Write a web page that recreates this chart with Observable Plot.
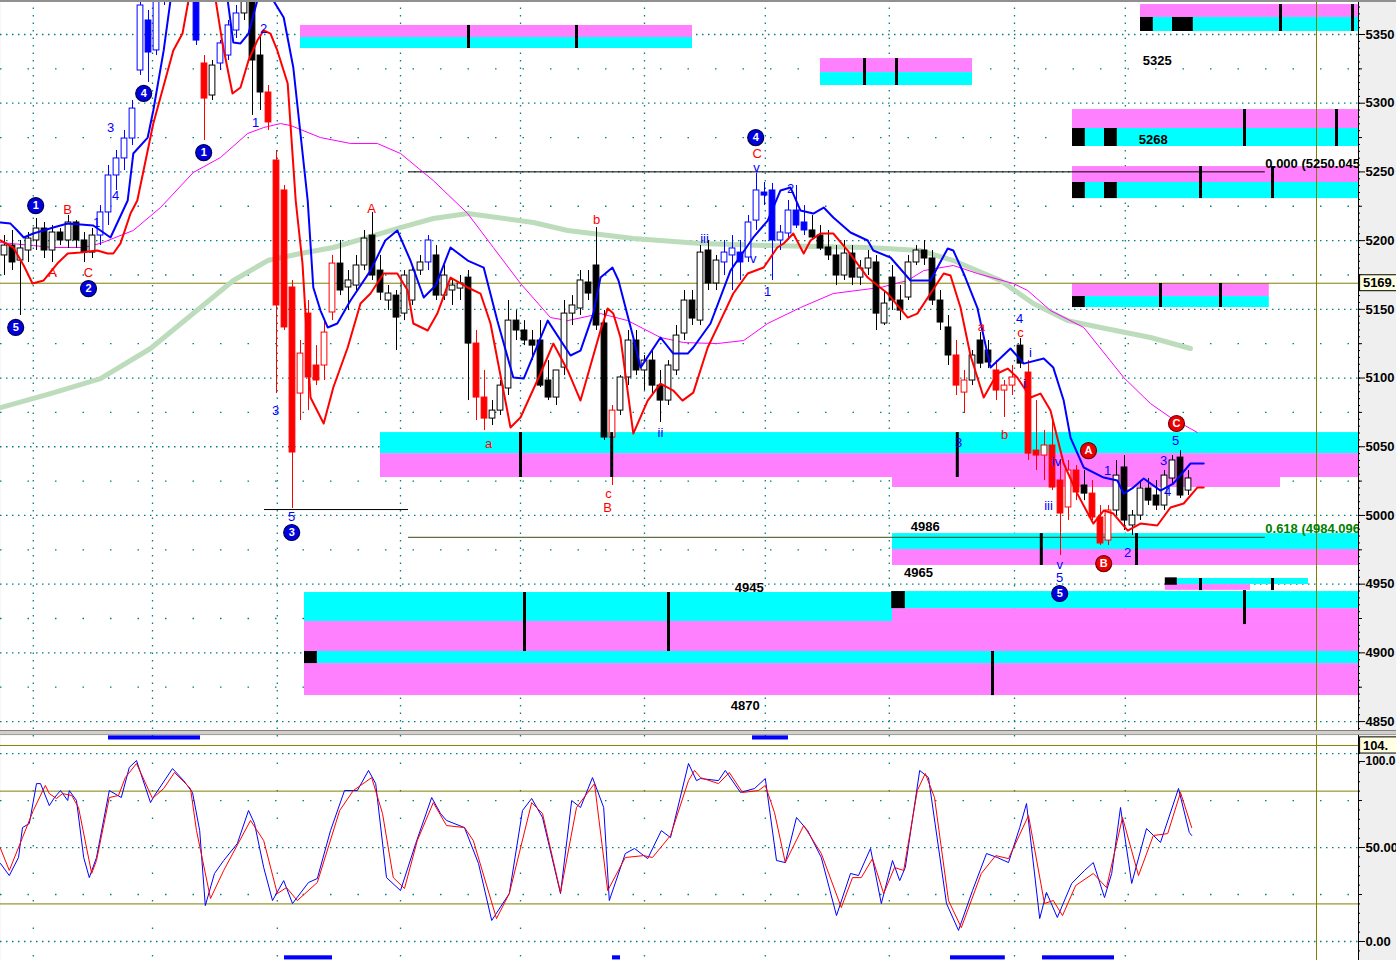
<!DOCTYPE html>
<html><head><meta charset="utf-8">
<script src="https://cdn.jsdelivr.net/npm/d3@7"></script>
<script src="https://cdn.jsdelivr.net/npm/@observablehq/plot@0.6"></script>
<style>
html,body{margin:0;padding:0;background:#fff;overflow:hidden;}
#wrap{position:relative;width:1396px;height:960px;background:#efefef;font-family:"Liberation Sans",Arial,sans-serif;}
#main{position:absolute;left:0;top:0;}
#lower{position:absolute;left:0;top:735px;}
#sep{position:absolute;left:0;top:730px;width:1396px;height:5px;background:#d4d0c8;border-top:1px solid #808080;border-bottom:1px solid #a0a0a0;box-sizing:border-box;}
#topb{position:absolute;left:0;top:0;width:1396px;height:2px;background:#909090;}
</style></head>
<body><div id="wrap"><div id="main"></div><div id="sep"></div><div id="lower"></div><div id="topb"></div></div>
<script>
// ---------- DATA ----------
const barOpen = [5189.2,5196.4,5185.5,5192.8,5200.1,5208.8,5192.8,5205.9,5200.1,5213.2,
5200.1,5191.3,5203.7,5220.5,5247.4,5259.8,5274.3,5323.8,5360.2,5338.4,
5382.0,5396.6,5403.9,5396.6,5378.4,5328.9,5305.6,5328.9,5334.7,5352.9,
5365.3,5374.8,5334.7,5307.8,5258.3,5236.5,5165.9,5088.7,5146.9,5109.1,
5109.1,5147.7,5183.3,5165.9,5167.3,5181.9,5203.7,5178.2,5156.4,5160.0,
5146.9,5156.4,5178.2,5184.1,5189.2,5160.0,5163.7,5165.1,5173.1,5125.1,
5085.8,5070.5,5076.3,5092.4,5141.8,5134.6,5127.3,5127.3,5098.2,5085.8,
5107.6,5146.9,5150.6,5169.5,5181.9,5139.7,5056.7,5076.3,5100.4,5127.3,
5105.5,5112.7,5094.5,5083.6,5105.5,5132.4,5156.4,5141.8,5192.8,5168.8,
5184.1,5189.2,5191.3,5187.7,5214.6,5235.0,5236.5,5200.1,5205.2,5221.9,
5213.2,5207.4,5203.7,5195.0,5189.2,5174.6,5190.6,5173.1,5179.7,5184.1,
5139.7,5173.1,5156.4,5158.6,5184.1,5192.8,5187.0,5156.4,5136.8,5116.4,
5089.4,5098.2,5127.3,5120.0,5105.5,5090.9,5094.5,5123.6,5104.0,5047.2,
5043.6,5050.9,5025.4,5005.8,5032.7,5021.8,5015.9,4998.5,4981.7,5003.6,
5034.9,4992.7,4999.9,5019.6,5014.5,5007.2,5026.9,5042.1,5018.1];
const barHigh = [5203.7,5207.4,5200.1,5205.9,5216.1,5213.2,5211.0,5208.8,5218.3,5214.6,
5205.9,5208.8,5225.5,5254.7,5265.6,5280.1,5302.0,5389.3,5367.5,5389.3,
5403.9,5411.1,5414.8,5407.5,5385.7,5334.7,5331.1,5345.6,5360.2,5371.1,
5382.0,5382.0,5349.3,5312.9,5265.6,5240.1,5171.0,5127.3,5156.4,5123.6,
5141.8,5189.2,5200.1,5178.2,5189.2,5207.4,5220.5,5189.2,5167.3,5163.7,
5178.2,5181.9,5189.2,5203.7,5196.4,5181.9,5171.0,5174.6,5178.2,5134.6,
5105.5,5083.6,5098.2,5156.4,5149.1,5141.8,5134.6,5141.8,5112.7,5098.2,
5156.4,5160.0,5178.2,5178.2,5209.5,5149.1,5080.0,5101.8,5134.6,5134.6,
5116.4,5120.0,5105.5,5112.7,5138.2,5163.7,5163.7,5196.4,5200.1,5189.2,
5200.1,5203.7,5200.1,5218.3,5248.8,5242.3,5241.6,5211.0,5229.2,5240.1,
5225.5,5218.3,5211.0,5207.4,5196.4,5200.1,5196.4,5185.5,5192.8,5189.2,
5163.7,5181.9,5167.3,5189.2,5196.4,5200.1,5192.8,5163.7,5145.5,5127.3,
5105.5,5120.0,5133.1,5127.3,5112.7,5098.2,5109.1,5128.7,5112.7,5083.6,
5061.8,5069.1,5040.0,5040.0,5036.3,5032.7,5025.4,5007.2,5007.2,5040.0,
5043.6,5003.6,5025.4,5026.9,5025.4,5032.7,5043.6,5047.2,5032.7];
const barLow = [5174.6,5178.2,5145.5,5184.1,5192.8,5187.0,5184.1,5196.4,5194.3,5194.3,
5184.1,5187.0,5196.4,5211.0,5236.5,5251.0,5269.2,5320.2,5315.1,5334.7,
5371.1,5382.0,5389.3,5371.1,5342.0,5272.9,5302.0,5323.8,5331.1,5347.1,
5360.2,5291.1,5294.7,5280.1,5088.7,5134.6,5005.0,5069.1,5076.3,5094.5,
5098.2,5141.8,5160.0,5149.1,5163.7,5178.2,5171.0,5156.4,5149.1,5120.0,
5141.8,5152.8,5174.6,5178.2,5156.4,5156.4,5152.8,5156.4,5083.6,5069.1,
5061.8,5065.4,5072.7,5087.3,5127.3,5123.6,5112.7,5093.1,5083.6,5080.0,
5101.8,5138.2,5145.5,5156.4,5134.6,5054.5,5021.8,5072.7,5094.5,5101.8,
5090.9,5087.3,5067.6,5080.0,5101.8,5127.3,5138.2,5138.2,5163.7,5163.7,
5174.6,5163.7,5171.0,5184.1,5207.4,5225.5,5171.0,5192.8,5200.1,5208.8,
5203.7,5200.1,5192.8,5185.5,5167.3,5171.0,5167.3,5167.3,5174.6,5134.6,
5138.2,5149.1,5141.8,5156.4,5181.9,5181.9,5152.8,5134.6,5109.1,5087.3,
5074.2,5094.5,5106.9,5106.9,5083.6,5071.3,5087.3,5106.9,5040.0,5032.7,
5025.4,5018.1,4970.8,4996.3,5010.8,5010.8,4996.3,4978.1,4978.1,4999.9,
4989.0,4985.4,4996.3,5007.2,5003.6,5003.6,5021.8,5012.3,5014.5];
const barClose = [5196.4,5184.1,5194.3,5201.5,5208.8,5192.8,5205.9,5200.1,5213.2,5200.1,
5191.3,5203.7,5220.5,5247.4,5259.8,5274.3,5296.1,5371.1,5336.9,5382.0,
5396.6,5403.9,5396.6,5378.4,5345.6,5303.4,5327.4,5343.5,5356.6,5365.3,
5374.8,5331.1,5307.8,5286.0,5152.8,5136.8,5045.8,5117.8,5100.4,5098.2,
5133.1,5183.3,5163.7,5171.0,5181.9,5201.5,5174.6,5162.2,5161.5,5144.0,
5174.6,5178.2,5184.1,5200.1,5160.0,5174.6,5167.3,5168.8,5125.1,5085.8,
5070.5,5076.3,5094.5,5141.8,5134.6,5127.3,5123.6,5094.5,5085.8,5105.5,
5146.9,5152.8,5171.0,5161.5,5138.2,5056.7,5076.3,5100.4,5127.3,5105.5,
5112.7,5094.5,5083.6,5109.1,5130.9,5156.4,5143.3,5191.3,5168.8,5185.5,
5191.3,5194.3,5184.1,5213.2,5236.5,5232.8,5200.1,5205.9,5221.9,5211.0,
5207.4,5202.3,5194.3,5189.2,5174.6,5190.6,5173.1,5179.7,5187.0,5146.9,
5154.2,5156.4,5149.1,5184.1,5192.8,5187.0,5156.4,5140.4,5116.4,5094.5,
5098.2,5116.4,5110.5,5111.3,5090.9,5094.5,5100.4,5110.5,5045.0,5043.6,
5050.9,5020.3,5001.4,5032.7,5016.7,5015.9,4998.5,4979.6,5003.6,5029.0,
4996.3,4999.9,5019.6,5010.8,5007.2,5029.0,5040.0,5014.5,5026.9];
// k = black/white candle, b = blue candle, r = red candle
const barTone = ("kkkkkkkkkkkk"+"bbbbbbbbbbbbb"+"r"+"k"+"bbb"+"kkk"+"rrrrrrrrr"+"kkkkkkkkkkk"+"b"+"kkkkk"+"rr"+
  "kkkkkkkkkkkkkkk"+"r"+"kkkkkkkkkkkkk"+"bbbbbbbbbbb"+"kkkkkkkkkkkkkkkkkk"+"rr"+"kkk"+"rrr"+"k"+"rrrrrrr"+"k"+"rrr"+"kkkkkkkkkk").split("");

const blueBand = [[-0.5,5213.2],[0.75,5212.4],[1.6,5207.4],[2.4,5202.3],[3.6,5205.2],[6.1,5209.5],[7.9,5212.4],[11.1,5211.0],[12,5207.4],[13.25,5202.3],[15.4,5229.2],[16.1,5263.4],[17.9,5275.0],[18.6,5294.7],[19.9,5338.4],[20.75,5374.8],[22,5403.9],[25.1,5411.1],[27.25,5389.3],[27.9,5374.8],[28.6,5344.2],[29.5,5343.5],[30.5,5350.7],[31.6,5374.8],[32.6,5382.0],[33.6,5374.8],[34.9,5362.4],[36.1,5326.0],[37.9,5229.2],[38.6,5165.9],[39.5,5149.1],[40.4,5136.8],[41.6,5139.7],[43.25,5156.4],[45.75,5178.2],[47.6,5200.1],[49.1,5207.4],[50.75,5185.5],[52.4,5158.6],[53.9,5167.3],[55.75,5195.0],[57.9,5185.5],[59.9,5180.4],[61.6,5141.8],[63.6,5100.4],[64.9,5099.6],[67.9,5141.8],[70.75,5116.4],[72,5120.0],[73.6,5146.9],[74.5,5173.1],[76,5180.4],[76.75,5171.0],[78.6,5129.5],[79.5,5107.6],[82,5129.5],[83.6,5117.8],[85.4,5117.8],[86.1,5122.2],[88.25,5139.7],[90.75,5178.2],[93.6,5202.3],[95.4,5214.6],[97,5236.5],[98.25,5238.7],[99.5,5221.9],[101.1,5219.7],[102.4,5224.1],[103.6,5216.8],[105.75,5205.9],[107.9,5200.1],[108.6,5192.8],[110.75,5187.7],[113.25,5171.0],[115.75,5171.0],[117.9,5194.3],[118.6,5192.8],[119.9,5176.1],[121.6,5151.3],[123.25,5107.6],[125.75,5121.5],[127.4,5110.5],[129.9,5114.2],[131.1,5107.6],[132.4,5083.6],[133.25,5056.7],[134.9,5034.9],[137.4,5027.6],[139.1,5025.4],[139.9,5015.9],[141.1,5020.3],[142.4,5026.9],[144.5,5018.1],[146.1,5023.2],[148.25,5037.8],[149.9,5037.8]];
const redBand = [[-0.5,5200.1],[1.1,5195.0],[2.4,5181.9],[3.5,5168.8],[4.9,5171.0],[6.6,5183.3],[7.9,5190.6],[9.5,5191.3],[11.6,5192.8],[12.9,5190.6],[13.6,5190.6],[14.5,5198.0],[15.75,5219.7],[16.6,5229.2],[18.6,5285.2],[21.1,5338.4],[22.25,5350.7],[23,5374.8],[24.5,5389.3],[25.75,5382.0],[26.4,5374.8],[27.25,5343.5],[28.5,5307.1],[29.5,5311.4],[30.5,5331.1],[31.6,5345.6],[32.4,5352.9],[33.25,5350.7],[34.1,5338.4],[35.4,5314.3],[36.4,5229.2],[37.25,5183.3],[38.25,5085.8],[39.9,5066.9],[41.1,5093.1],[42.9,5122.2],[44.5,5154.2],[45.75,5161.5],[47.4,5176.1],[49.1,5176.1],[50.4,5163.7],[51.1,5139.7],[52.9,5134.6],[54.1,5146.9],[55.75,5173.1],[57.9,5165.9],[59.5,5161.5],[60.75,5139.7],[63.25,5064.0],[64.5,5071.3],[67,5103.3],[68.6,5125.1],[70.4,5105.5],[72,5083.6],[74.5,5134.6],[75.4,5150.6],[76.1,5146.9],[77,5129.5],[78.6,5059.6],[80.4,5083.6],[82,5096.0],[83.6,5090.9],[84.75,5083.6],[86.1,5089.4],[87.9,5122.2],[89.5,5141.8],[91.1,5161.5],[92.9,5176.1],[94.9,5180.4],[96.6,5195.0],[97.4,5197.9],[98.6,5205.2],[99.9,5190.6],[100.75,5200.1],[102,5205.2],[103.6,5205.2],[105.4,5192.8],[107.9,5173.1],[110.4,5161.5],[112.9,5144.0],[114.1,5146.9],[115.75,5161.5],[117.4,5176.1],[118.25,5174.6],[119.5,5151.3],[120.75,5116.4],[122.4,5085.8],[124.1,5103.3],[125.4,5106.9],[126.6,5100.4],[128.25,5085.8],[129.5,5088.7],[130.75,5076.3],[132.4,5037.8],[134.1,5015.9],[136.1,4994.1],[137.4,5003.6],[138.6,5001.4],[140.4,4989.0],[142,4994.1],[144.1,4992.7],[145.75,5005.8],[147.4,5008.7],[149.1,5020.3],[149.9,5020.3]];
const magentaAvg = [[-0.5,5198.6],[3.6,5196.4],[6.1,5195.0],[9.9,5195.0],[12,5198.0],[16.1,5207.4],[19.5,5224.1],[23.6,5249.6],[27,5260.5],[30.4,5278.0],[32.4,5282.3],[34.5,5285.2],[35.75,5283.8],[39.5,5275.0],[43.25,5270.7],[46.6,5270.7],[49.5,5263.4],[53.6,5243.7],[57.9,5219.7],[61.1,5195.0],[64.5,5168.8],[68.25,5144.0],[70.4,5141.8],[74.5,5146.9],[77.9,5141.8],[82,5129.5],[84.9,5125.8],[89.1,5125.1],[92.4,5127.3],[95.4,5139.7],[99.5,5151.3],[103.6,5161.5],[109.5,5165.9],[112.9,5171.0],[114.9,5178.2],[118.6,5181.9],[121.6,5176.1],[126.1,5168.8],[127.9,5163.7],[130.75,5149.1],[134.9,5136.8],[139.9,5100.4],[143.25,5081.4],[145.75,5071.3],[149.1,5060.4]];
const greenAvg = [[-0.5,5078.5],[5.75,5088.7],[12,5099.6],[18.25,5121.5],[24.5,5151.3],[28.6,5171.0],[32.9,5185.5],[37,5190.6],[41.1,5195.0],[45.4,5202.3],[49.5,5209.5],[53.6,5216.1],[57.9,5219.7],[66.1,5213.2],[70.4,5207.4],[78.6,5201.5],[87,5197.9],[95.4,5196.4],[107.9,5195.0],[114.5,5192.8],[118.6,5185.5],[124.5,5171.0],[128.6,5154.2],[132.9,5141.8],[137,5136.8],[143.25,5129.5],[148.25,5121.5]];

const stochK = [[-0.5,41.5],[0.6,35.1],[1.75,44.7],[2.25,60.6],[3.1,62.8],[4,84.0],[4.5,84.0],[5.6,72.3],[6.25,76.6],[7,80.3],[7.9,75.0],[8.1,80.3],[9,75.0],[9.9,44.7],[10.6,34.0],[11.5,44.7],[13.1,80.3],[14.6,76.6],[15.6,92.6],[16.5,96.3],[18.25,73.9],[18.75,77.7],[21,92.0],[22.4,85.6],[23.5,79.3],[24.4,59.0],[25.1,19.1],[26.25,36.2],[27.4,43.1],[29.1,52.1],[30.5,69.7],[31.25,62.8],[32.4,39.4],[33.5,21.8],[34.9,32.4],[36,20.2],[38,31.4],[39.1,33.5],[40.75,59.0],[42.5,80.3],[44.1,80.3],[45.5,91.0],[46.4,84.0],[47.75,34.0],[49.5,27.1],[51.4,52.1],[53.4,76.6],[54.5,68.1],[55.25,64.4],[57.5,60.6],[59.25,41.5],[60.9,11.2],[63.1,25.5],[64.75,69.7],[65.9,76.1],[67.25,66.0],[69.5,25.5],[70.9,75.0],[72,71.3],[73.5,87.2],[74.9,71.3],[75.6,21.8],[77.6,46.8],[78.75,49.5],[80.4,44.1],[82.1,59.0],[83.25,55.3],[85.5,94.7],[86.5,85.6],[87,86.7],[89.25,85.6],[90.1,91.0],[92,79.3],[93.75,81.4],[95.1,86.7],[96.5,43.1],[97.6,42.0],[99,66.0],[100.4,59.0],[102.1,44.7],[104,13.8],[105.75,36.2],[106.75,35.1],[108.25,49.5],[109.6,20.2],[111,43.1],[111.9,32.4],[112.6,39.4],[114.4,91.0],[115.5,87.2],[117.75,20.2],[119.25,5.9],[121,27.1],[122.75,46.8],[124.1,44.7],[125.5,42.0],[126.9,60.6],[127.75,73.4],[129.4,12.2],[130.25,26.1],[131.6,12.8],[133.4,30.9],[135,37.8],[136.1,42.0],[137.5,23.4],[138.4,36.2],[139.5,71.3],[140.9,30.9],[142.75,60.1],[144.5,52.7],[146.75,81.4],[148.1,58.0],[148.4,56.4]];
const stochD = [[-0.5,49.5],[0.6,37.8],[2.25,55.3],[3.6,69.7],[5.1,83.0],[5.6,78.7],[6.5,76.1],[7.25,78.7],[8.4,77.7],[9.25,71.3],[10.9,36.2],[11.5,43.1],[13.1,76.6],[14.25,77.7],[15.1,87.2],[16.5,94.7],[18.5,76.1],[19.9,81.4],[21.25,89.9],[23.25,81.4],[24,59.0],[25.75,22.9],[27.4,37.8],[30.75,64.4],[32.4,53.7],[34.1,25.5],[35.25,28.7],[36.6,21.8],[39.1,31.4],[41.9,69.7],[43.6,80.3],[45.9,87.2],[47.25,68.1],[48.6,34.0],[50,28.2],[51.6,53.7],[53.6,73.9],[55.25,61.7],[57.5,60.6],[58.6,53.7],[61.5,12.2],[63.1,25.5],[65.9,73.9],[67.25,68.1],[69.5,26.1],[71.5,71.3],[73.75,84.0],[75.4,27.1],[77.6,44.7],[79.9,45.7],[81,44.7],[83.25,56.4],[85.5,85.6],[86.25,91.0],[87,87.2],[89.25,84.0],[90.6,89.9],[92.25,79.3],[94.25,80.3],[95.1,83.0],[96.25,68.6],[97.6,42.0],[99.9,61.7],[102.1,46.8],[104.6,18.1],[106,34.0],[107.1,34.0],[108.5,44.1],[109.9,25.5],[111.25,39.4],[112.4,37.8],[114.1,80.3],[115.1,89.4],[116.25,76.6],[118,21.8],[119.6,7.4],[122.1,36.2],[123.9,45.7],[125.5,44.1],[128,67.0],[130,20.2],[131.1,21.8],[132.25,13.8],[133.9,29.8],[136.1,36.2],[137.75,28.7],[139.75,66.0],[141.75,35.1],[143.6,56.4],[145.4,57.4],[147,79.3],[148.4,60.6]];

// zones (bar units / price)
const zoneStart = [37,37,102,102,142,142,133.5,133.5,133.5,133.5,133.5,133.5,47,47,111,111,111,37.5,111,111,37.5,37.5,37.5,146.6,145.1];
const zoneEnd   = [86,86,121,121,169.25,169.25,169.25,169.25,169.25,169.25,158.1,158.1,169.25,169.25,159.5,169.25,169.25,111,169.25,169.25,169.25,169.25,169.25,163,155.75];
const zoneLow   = [5347.8,5339.8,5322.3,5312.9,5362.4,5352.2,5281.6,5268.5,5242.3,5230.6,5159.3,5151.3,5045.0,5027.6,5020.3,4975.2,4963.6,4922.8,4932.2,4922.8,4901.0,4892.2,4868.9,4949.7,4945.5];
const zoneHigh  = [5356.6,5347.8,5332.5,5322.3,5371.8,5362.4,5295.4,5281.6,5253.9,5242.3,5168.8,5159.3,5060.3,5045.0,5027.6,4986.8,4975.2,4943.9,4944.6,4932.2,4922.8,4901.0,4892.2,4954.1,4949.7];
const zoneKind  = ["m","c","m","c","m","c","m","c","m","c","m","c","c","m","m","c","m","c","c","m","m","c","m","c","m"];
const blockStart = [37.5,110.9,133.5,137.5,133.5,137.5,133.5,142,146,145.1];
const blockEnd   = [39.1,112.6,135.1,139.1,135.1,139.1,135.1,143.6,148.6,146.6];
const blockLow   = [4892.2,4932.2,5268.5,5268.5,5230.6,5230.6,5151.3,5352.2,5352.2,4949.2];
const blockHigh  = [4901.0,4944.6,5281.6,5281.6,5242.3,5242.3,5159.3,5362.4,5362.4,4954.6];
const zTickBar  = [58,71.5,107.5,111.5,159.5,168.5,155,166.5,149.5,158.5,144.5,152,64.5,75.9,119.1,129.6,141.5,65,83,123.5,149.5,158.5,155];
const zTickLow  = [5339.8,5339.8,5312.9,5312.9,5352.2,5352.2,5268.5,5268.5,5230.6,5230.6,5151.3,5151.3,5027.6,5027.6,5027.6,4963.6,4963.6,4901.0,4901.0,4868.9,4945.3,4945.3,4920.6];
const zTickHigh = [5356.6,5356.6,5332.5,5332.5,5371.8,5371.8,5295.4,5295.4,5253.9,5253.9,5168.8,5168.8,5060.3,5060.3,5060.3,4986.8,4986.8,4943.9,4943.9,4901.0,4954.1,4954.1,4945.3];
const zoneText  = ["5325","5268","4986","4965","4945","4870"];
const zoneTextBar = [144.1,143.6,115.1,114.25,93.1,92.6];
const zoneTextPrice = [5331.1,5273.6,4991.9,4958.5,4947.6,4861.6];

// Fibonacci levels
const fibPrice = [5250.045, 4984.096];
const fibText = ["0.000 (5250.045", "0.618 (4984.096"];
const fibColor = ["#000000", "#008000"];
const fibFrom = 50.5, fibTo = 157.6;
const wave3Low = 5004.3, wave3From = 32.5, wave3To = 50.5;

const lastPrice = 5169, lastPriceText = "5169.";
const cursorBar = 164;
const gridBars = [3.6,18.5,34.1,49.5,64.5,80,95.1,110.6,126.25,140.1];
const priceTicks = [4850,4900,4950,5000,5050,5100,5150,5200,5250,5300,5350];
const priceHalf = [4875,4925,4975,5025,5075,5125,5175,5225,5275,5325];

// wave labels
const waveText  = ["1","3","4","1","2","3","5","iii","v","1","v","2","ii","3","4","i","i","iv","iii","v","5","1","2","3","4","5",
                   "A","B","C","A","a","b","c","B","C","a","b","c"];
const waveBar   = [11.5,13.25,13.9,31.4,32.4,33.9,35.9,87.5,93.6,95.4,94,98.25,82,119.25,126.9,128.25,127.5,131.5,130.5,131.9,131.9,137.9,140.4,144.9,145.4,146.4,
                   6,7.9,10.5,45.9,60.5,74,75.5,75.4,94.1,122.1,125,127];
const wavePrice = [5213.2,5282.3,5232.8,5286.0,5354.4,5076.3,4999.2,5201.5,5187.0,5163.0,5253.2,5237.9,5060.4,5053.0,5143.3,5118.5,5096.0,5039.2,5007.2,4964.3,4954.8,5032.7,4973.0,5040.0,5017.4,5054.5,
                   5176.8,5222.6,5176.8,5223.4,5052.3,5215.4,5016.0,5005.8,5263.4,5137.5,5058.9,5133.1];
const waveColor = ["b","b","b","b","b","b","b","b","b","b","b","b","b","b","b","b","b","b","b","b","b","b","b","b","b","b",
                   "r","r","r","r","r","r","r","r","r","r","r","r"];
const circText  = ["1","2","5","4","1","3","4","5","A","B","C"];
const circBar   = [3.9,10.5,1.4,17.4,24.9,35.9,93.9,131.9,135.5,137.4,146.5];
const circPrice = [5225.5,5165.1,5136.8,5307.1,5264.1,4987.6,5275.0,4943.2,5047.2,4965.0,5066.9];
const circColor = ["b","b","b","b","b","b","b","b","r","r","r"];

// stochastic panel
const stochTicks = [0, 50];
const stochTickText = ["0.00", "50.00"];
const stochTopTick = 100, stochTopTickText = "100.0";
const stochBands = [20, 80];
const stochTop = 104.3, stochTopText = "104.";
const markTopStart = [13, 93.5], markTopEnd = [24.5, 98];
const markBotStart = [35, 76, 118.25, 129.75], markBotEnd = [41, 77, 125.1, 138.75];

// ---------- RENDER ----------
const FONT = "Liberation Sans, Arial, sans-serif";
const xDomain = [-0.5, 169.25];
const tickLen = v => xDomain[1] + v / 8;   // tick length in bar units (8px per bar)
const toneColor = {k: "#000000", b: "#0000ff", r: "#ff0000"};
const bars = barOpen.map((o, i) => ({i, o, h: barHigh[i], l: barLow[i], c: barClose[i], t: barTone[i]}));
const pts = a => a.map(([b, v]) => ({b, v}));
const zones = zoneStart.map((s, i) => ({x1: s, x2: zoneEnd[i], y1: zoneLow[i], y2: zoneHigh[i], f: zoneKind[i] === "m" ? "#ff80ff" : "#00ffff"}));
const blocks = blockStart.map((s, i) => ({x1: s, x2: blockEnd[i], y1: blockLow[i], y2: blockHigh[i]}));
const zticks = zTickBar.map((b, i) => ({b, y1: zTickLow[i], y2: zTickHigh[i]}));
const zlabels = zoneText.map((t, i) => ({t, b: zoneTextBar[i], p: zoneTextPrice[i]}));
const fibs = fibPrice.map((p, i) => ({p, t: fibText[i], c: fibColor[i]}));
const waves = waveText.map((t, i) => ({t, b: waveBar[i], p: wavePrice[i], c: toneColor[waveColor[i]]}));
const circs = circText.map((t, i) => ({t, b: circBar[i], p: circPrice[i], c: circColor[i]}));
const priceMinor = d3.range(4845, 5375, 5);

const main = Plot.plot({
  width: 1396, height: 730,
  marginTop: 0, marginBottom: 0, marginLeft: 0, marginRight: 38,
  style: {background: "#efefef", fontFamily: FONT, overflow: "visible"},
  x: {domain: xDomain, axis: null},
  y: {domain: [4843.5, 5374.75]},
  color: {type: "identity"},
  marks: [
    Plot.frame({fill: "white", stroke: "none"}),
    Plot.ruleY(priceHalf, {stroke: "#008080", strokeWidth: 1.3, strokeDasharray: "1.5,26"}),
    Plot.ruleY(priceTicks, {stroke: "#008080", strokeWidth: 1.3, strokeDasharray: "1.5,4.5"}),
    Plot.ruleX(gridBars, {stroke: "#008080", strokeWidth: 1.3, strokeDasharray: "1.5,6"}),
    Plot.rect(zones, {x1: "x1", x2: "x2", y1: "y1", y2: "y2", fill: "f"}),
    Plot.rect(blocks, {x1: "x1", x2: "x2", y1: "y1", y2: "y2", fill: "black"}),
    Plot.ruleY([lastPrice], {stroke: "#808000", strokeWidth: 1}),
    Plot.ruleX([cursorBar], {stroke: "#808000", strokeWidth: 1}),
    Plot.ruleY(fibs, {y: "p", x1: fibFrom, x2: fibTo, stroke: d => d.c === "#008000" ? "#3a4a1a" : "#000000", strokeWidth: 1}),
    Plot.ruleY([wave3Low], {x1: wave3From, x2: wave3To, stroke: "black"}),
    Plot.line(pts(greenAvg), {x: "b", y: "v", stroke: "#bcdcbc", strokeWidth: 5, clip: true}),
    Plot.line(pts(magentaAvg), {x: "b", y: "v", stroke: "#ff00ff", strokeWidth: 1, clip: true}),
    Plot.ruleX(bars, {x: "i", y1: "l", y2: "h", stroke: d => toneColor[d.t], strokeWidth: 1, clip: true}),
    Plot.rect(bars, {x1: d => d.i - 0.36, x2: d => d.i + 0.36,
      y1: d => Math.min(d.o, d.c), y2: d => Math.max(d.o, d.c),
      fill: d => d.c >= d.o ? "#ffffff" : toneColor[d.t], stroke: d => toneColor[d.t], strokeWidth: 1, clip: true}),
    Plot.line(pts(blueBand), {x: "b", y: "v", stroke: "#0000ff", strokeWidth: 2, clip: true}),
    Plot.line(pts(redBand), {x: "b", y: "v", stroke: "#ff0000", strokeWidth: 2, clip: true}),
    Plot.ruleX(zticks, {x: "b", y1: "y1", y2: "y2", stroke: "black", strokeWidth: 3}),
    Plot.text(zlabels, {x: "b", y: "p", text: "t", fill: "black", fontSize: 13, fontWeight: "bold", fontFamily: FONT}),
    Plot.text(fibs, {x: fibTo, y: d => d.p + 6, text: "t", fill: "c", textAnchor: "start", fontSize: 13, fontWeight: "bold", fontFamily: FONT, clip: true}),
    Plot.text(waves, {x: "b", y: "p", text: "t", fill: "c", fontSize: 13, fontFamily: FONT}),
    Plot.dot(circs, {x: "b", y: "p", r: 8, fill: d => d.c === "r" ? "#ee0000" : "#0000dd", stroke: d => d.c === "r" ? "#700000" : "#000050", strokeWidth: 1.2}),
    Plot.text(circs, {x: "b", y: "p", text: "t", fill: "white", fontSize: 11, fontWeight: "bold", fontFamily: FONT}),
    Plot.ruleX([xDomain[1]], {stroke: "black", strokeWidth: 1}),
    Plot.ruleY(priceMinor, {x1: xDomain[1], x2: tickLen(2), stroke: "black"}),
    Plot.ruleY(priceHalf, {x1: xDomain[1], x2: tickLen(4), stroke: "black"}),
    Plot.axisY({anchor: "right", ticks: priceTicks, tickSize: 6, tickPadding: 1, tickFormat: d => String(d), fontSize: 13, fontWeight: "bold", fontFamily: FONT, label: null}),
    Plot.rect([lastPrice], {x1: 169.45, x2: 174.6, y1: d => d - 5.8, y2: d => d + 5.8, fill: "#ffffe1", stroke: "black"}),
    Plot.text([lastPrice], {x: 169.8, y: d => d, text: () => lastPriceText, textAnchor: "start", fontSize: 13, fontWeight: "bold", fontFamily: FONT, fill: "black"})
  ]
});
document.getElementById("main").appendChild(main);

const stochMinor = d3.range(-5, 101, 5);
const lower = Plot.plot({
  width: 1396, height: 225,
  marginTop: 0, marginBottom: 0, marginLeft: 0, marginRight: 38,
  style: {background: "#efefef", fontFamily: FONT, overflow: "visible"},
  x: {domain: xDomain, axis: null},
  y: {domain: [-10.1, 109.6]},
  color: {type: "identity"},
  marks: [
    Plot.frame({fill: "white", stroke: "none"}),
    Plot.ruleY([25, 75], {stroke: "#008080", strokeWidth: 1.3, strokeDasharray: "1.5,26"}),
    Plot.ruleY([...stochTicks, stochTopTick], {stroke: "#008080", strokeWidth: 1.3, strokeDasharray: "1.5,4.5"}),
    Plot.ruleX(gridBars, {stroke: "#008080", strokeWidth: 1.3, strokeDasharray: "1.5,26"}),
    Plot.ruleY(stochBands, {stroke: "#808000", strokeWidth: 1}),
    Plot.ruleY([stochTop], {stroke: "#808000", strokeWidth: 1}),
    Plot.ruleX([cursorBar], {stroke: "#808000", strokeWidth: 1}),
    Plot.rect(markTopStart.map((s, i) => ({s, e: markTopEnd[i]})), {x1: "s", x2: "e", y1: 107.2, y2: 109.4, fill: "#0000ff"}),
    Plot.rect(markBotStart.map((s, i) => ({s, e: markBotEnd[i]})), {x1: "s", x2: "e", y1: -9.8, y2: -7.6, fill: "#0000ff"}),
    Plot.line(pts(stochK), {x: "b", y: "v", stroke: "#0000ff", strokeWidth: 1}),
    Plot.line(pts(stochD), {x: "b", y: "v", stroke: "#ff0000", strokeWidth: 1}),
    Plot.ruleX([xDomain[1]], {stroke: "black", strokeWidth: 1}),
    Plot.ruleY(stochMinor, {x1: xDomain[1], x2: tickLen(2), stroke: "black"}),
    Plot.ruleY([25, 75], {x1: xDomain[1], x2: tickLen(4), stroke: "black"}),
    Plot.axisY({anchor: "right", ticks: stochTicks, tickSize: 6, tickPadding: 1, tickFormat: d => stochTickText[stochTicks.indexOf(d)], fontSize: 13, fontWeight: "bold", fontFamily: FONT, label: null}),
    Plot.axisY({anchor: "right", ticks: [stochTopTick], tickSize: 6, tickPadding: 1, tickFormat: () => stochTopTickText, fontSize: 12, fontWeight: "bold", fontFamily: FONT, label: null, dy: 8}),
    Plot.rect([stochTop], {x1: 169.45, x2: 174.6, y1: d => d - 4.3, y2: d => d + 4.3, fill: "#ffffe1", stroke: "black"}),
    Plot.text([stochTop], {x: 169.8, y: d => d, text: () => stochTopText, textAnchor: "start", fontSize: 13, fontWeight: "bold", fontFamily: FONT, fill: "black"})
  ]
});
document.getElementById("lower").appendChild(lower);
</script>
</body></html>
